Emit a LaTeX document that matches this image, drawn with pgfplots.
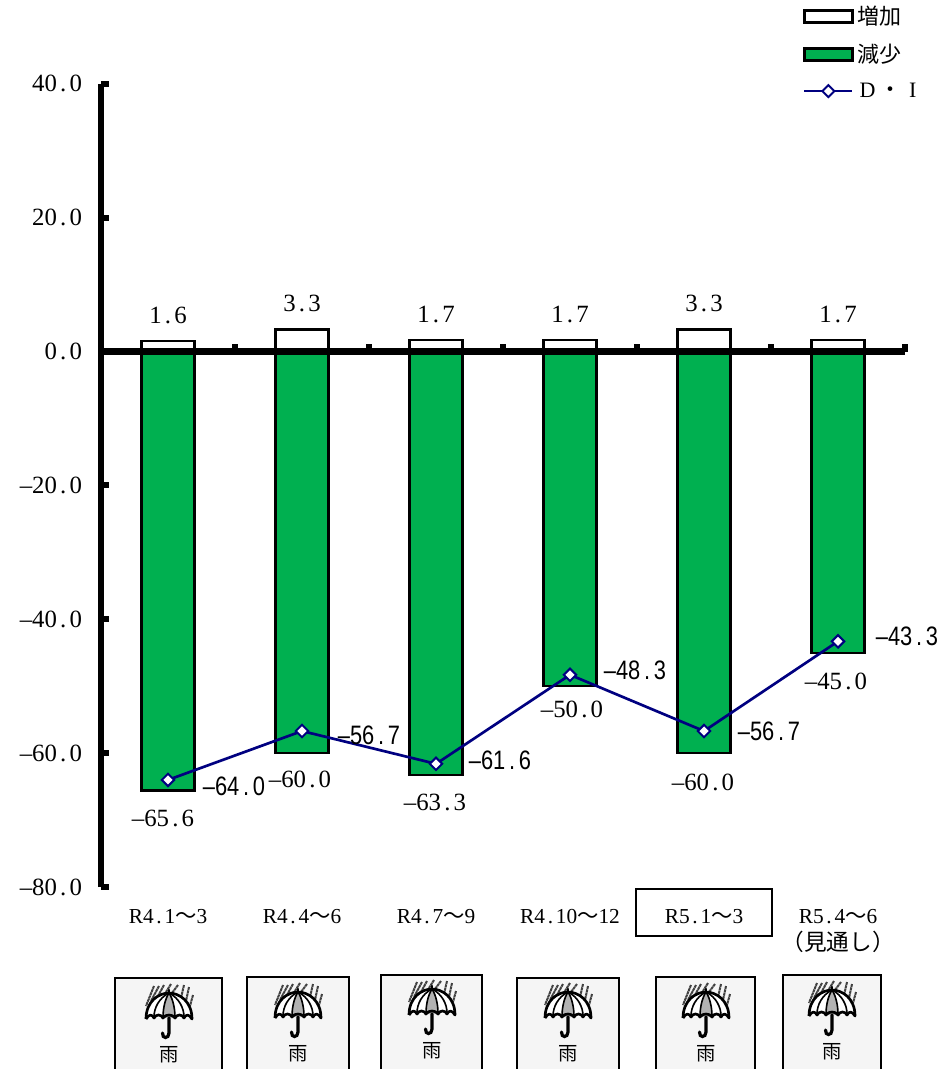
\documentclass[border=0pt]{standalone}
\usepackage{pgfplots}
\pgfplotsset{compat=1.18}
\usepackage{fontspec}
\setmainfont{Liberation Serif}
\newfontfamily\cjk{Noto Sans CJK JP}
\newfontfamily\numf{Liberation Serif}
\newfontfamily\difont[FakeStretch=0.82]{Liberation Sans}
\newcommand\dd{\hbox to 0.51em{\hss.\hss}}
\newcommand\fnum{\fontsize{18.6pt}{20pt}\numf}
\newcommand\flab{\fontsize{16pt}{20pt}\selectfont}
\newcommand\fdi{\fontsize{20pt}{20pt}\difont}
\newcommand\wv{{\cjk 〜}}
\definecolor{bargreen}{HTML}{00B050}
\definecolor{dinavy}{HTML}{000080}
\newcommand\umb[5]{% left, right, top, cx, domeTop
  \path[fill=black!4,draw=black,line width=1.7pt] (#1,#3) -- (#2,#3) -- (#2,1070) -- (#1,1070) -- cycle;
  \begin{scope}[shift={(#4,#5)}]
    \foreach \a/\b/\c/\d in {-15/-7/-23/13,-10/-7/-18/8,-5/-8/-11/3,2/-9/-3/-1,9/-8/3/0,15/-8/12/5,20/-6/17/8,24/2/21/13}
      \draw[black!75,line width=1.5pt,dash pattern=on 2.2pt off .4pt] (\a,\b) -- (\c,\d);
    \path[fill=white] (-23,25) .. controls (-23,8) and (-10,0) .. (0,0) .. controls (10,0) and (23,8) .. (23,25) -- cycle;
    \path[fill=black!30] (0,0) .. controls (-4,6) and (-6,16) .. (-6,25) -- (6,25) .. controls (6,16) and (4,6) .. (0,0);
    \draw[line width=1.2pt] (0,0) .. controls (-10,5) and (-15,15) .. (-15,24);
    \draw[line width=1.2pt] (0,0) .. controls (10,5) and (15,15) .. (15,24);
    \draw[line width=1.2pt] (0,0) .. controls (-4,6) and (-6,16) .. (-6,24);
    \draw[line width=1.2pt] (0,0) .. controls (4,6) and (6,16) .. (6,24);
    \draw[line width=2pt,line join=round] (-23,26) .. controls (-23,8) and (-10,0) .. (0,0) .. controls (10,0) and (23,8) .. (23,26)
      .. controls (20,21) and (17,21) .. (15,25) .. controls (13,21) and (8,21) .. (6,25) .. controls (4,21) and (-4,21) .. (-6,25)
      .. controls (-8,21) and (-13,21) .. (-15,25) .. controls (-17,21) and (-20,21) .. (-23,26);
    \draw[line width=1.9pt,line cap=round] (0,-3) -- (0,0);
    \draw[line width=2.4pt,line cap=round] (0,25) -- (0,40) .. controls (0,46) and (-7,46) .. (-6.5,40);
    \node[font=\cjk\fontsize{14.5pt}{15pt}\selectfont,inner sep=0pt] at (0,62) {雨};
  \end{scope}}
\begin{document}
\begin{tikzpicture}
\path[use as bounding box] (0,0) rectangle (707.25pt,-801.75pt);
\begin{axis}[
  at={(75.75pt,-665.25pt)}, anchor=south west,
  scale only axis, width=603pt, height=602.4pt,
  xmin=-0.5, xmax=5.5, ymin=-80, ymax=40,
  axis x line=middle, axis y line=left,
  axis line style={-,black,line width=4.8pt},
  axis on top, clip=false,
  tick align=inside,
  tick style={black,line width=4.5pt},
  major tick length=6pt,
  ytick={-80,-60,-40,-20,0,20,40},
  yticklabels={{\fnum –80\dd 0},{\fnum –60\dd 0},{\fnum –40\dd 0},{\fnum –20\dd 0},{\fnum 0\dd 0},{\fnum 20\dd 0},{\fnum 40\dd 0}},
  yticklabel style={anchor=east,inner sep=0pt,xshift=-14pt},
  xtick={0.5,1.5,2.5,3.5,4.5,5.5},
  xticklabels={},
  extra x ticks={0,1,2,3,4,5},
  extra x tick labels={{\flab R4\dd 1\wv 3},{\flab R4\dd 4\wv 6},{\flab R4\dd 7\wv 9},{\flab R4\dd 10\wv 12},{\flab R5\dd 1\wv 3},{\flab R5\dd 4\wv 6\\[5pt]\cjk\fontsize{17pt}{20pt}\selectfont（見通し）}},
  extra x tick style={major tick length=0pt,
    xticklabel style={anchor=north,align=center,inner sep=0pt,yshift=-418pt}},
  legend style={draw=none,fill=none,at={(0.873,1.097)},anchor=north west,
    inner sep=0pt,outer sep=0pt,legend cell align=left,
    nodes={inner sep=0pt,anchor=west},row sep=13.5pt,column sep=3pt,font=\fontsize{16.5pt}{18pt}\selectfont},
]
\addplot[ybar,bar width=39.75pt,bar shift=0pt,draw=black,fill=white,line width=1.7pt,
  legend image code/.code={\path[draw=black,fill=white,line width=2.2pt] (0pt,-4.5pt) rectangle (36pt,4.5pt);}]
  coordinates {(0,1.6)(1,3.3)(2,1.7)(3,1.7)(4,3.3)(5,1.7)};
\addplot[ybar,bar width=39.75pt,bar shift=0pt,draw=black,fill=bargreen,line width=1.7pt,
  legend image code/.code={\path[draw=black,fill=bargreen,line width=2.2pt] (0pt,-4.5pt) rectangle (36pt,4.5pt);}]
  coordinates {(0,-65.6)(1,-60.0)(2,-63.3)(3,-50.0)(4,-60.0)(5,-45.0)};
\addplot[sharp plot,dinavy,line width=2pt,mark=square*,mark size=3.3pt,
  mark options={fill=white,draw=dinavy,line width=1.5pt,rotate=45},
  legend image code/.code={\draw[dinavy,line width=1.7pt] (0pt,0pt) -- (36pt,0pt);
    \draw[fill=white,draw=dinavy,line width=1.5pt] (18pt,-4.5pt) -- (22.5pt,0pt) -- (18pt,4.5pt) -- (13.5pt,0pt) -- cycle;}]
  coordinates {(0,-64.0)(1,-56.7)(2,-61.6)(3,-48.3)(4,-56.7)(5,-43.3)};
\legend{{\cjk 増加},{\cjk 減少},{\hbox to 16.5pt{\hskip-2pt\hss D\hss}\hbox to 16.5pt{\hss{\cjk ・}\hss}\hbox to 16.5pt{\hss I\hss}}}
\end{axis}
\begin{scope}[x=0.75pt,y=-0.75pt]
  \foreach \x/\y/\t in {168/315/1\dd 6,302/303/3\dd 3,436/314/1\dd 7,570/314/1\dd 7,704/303/3\dd 3,838/314/1\dd 7,
    163/818/–65\dd 6,300/779/–60\dd 0,435/802/–63\dd 3,572/709/–50\dd 0,703/782/–60\dd 0,836/681/–45\dd 0}
    \node[inner sep=0pt] at (\x,\y) {\fnum \t};
  \foreach \x/\y/\t in {234/786/–64\dd 0,369/735/–56\dd 7,500/760/–61\dd 6,635/670/–48\dd 3,769/731/–56\dd 7,907/636/–43\dd 3}
    \node[inner sep=0pt] at (\x,\y) {\fdi \t};
  \draw[line width=1.6pt] (636,889) rectangle (772,936);
  \umb{115}{222}{978}{169}{993}
  \umb{247}{349}{977}{298}{992}
  \umb{381}{482}{975}{432}{989}
  \umb{517}{619}{978}{568}{992}
  \umb{656}{755}{977}{706}{992}
  \umb{783}{881}{975}{832}{990}
\end{scope}
\end{tikzpicture}
\end{document}
